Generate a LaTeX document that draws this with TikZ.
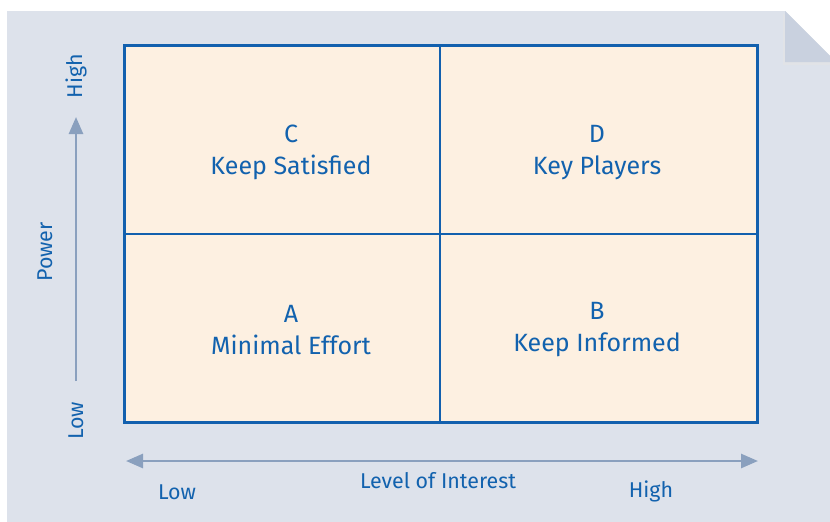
\documentclass[tikz,border=0pt]{standalone}
\usepackage{fontspec}
\setmainfont{Fira Sans}
\usetikzlibrary{arrows.meta}
\definecolor{bgc}{HTML}{DDE2EB}
\definecolor{foldc}{HTML}{C9D1DF}
\definecolor{cellc}{HTML}{FDF0E1}
\definecolor{linec}{HTML}{1260AE}
\definecolor{txtc}{HTML}{1262AE}
\definecolor{arrc}{HTML}{8AA0BE}
\tikzset{
  cell/.style={draw=linec, line width=3pt, fill=cellc},
  celltext/.style={text=txtc, font=\fontsize{25}{32}\selectfont, align=center},
  axtext/.style={text=txtc, font=\fontsize{21.4}{24}\selectfont, inner sep=0pt},
  axarrow/.style={draw=arrc, line width=2.6pt, -{Triangle[length=17pt,width=14pt]}},
}
\begin{document}
\begin{tikzpicture}[x=1pt,y=-1pt]
\useasboundingbox (0,0) rectangle (830,522);
\fill[white] (0,0) rectangle (830,522);
% background with cut corner
\fill[bgc] (7,11) -- (785,11) -- (830,56) -- (830,522) -- (7,522) -- cycle;
% fold shadow
\fill[black!10, opacity=0.5] (783,13) -- (783,65) -- (832,65) -- cycle;
\fill[foldc] (785,11) -- (785,62) -- (836,62) -- cycle;
% grid
\coordinate (tl) at (124,45);
\coordinate (br) at (757,422);
\path[cell] (tl) rectangle (br);
\coordinate (mt) at (440,45);
\coordinate (mb) at (440,422);
\coordinate (ml) at (124,234);
\coordinate (mr) at (757,234);
\draw[draw=linec, line width=2.6pt] (mt) -- (mb);
\draw[draw=linec, line width=2.6pt] (ml) -- (mr);
% cell texts
\node[celltext] (c) at (291,152.5) {C\\Keep Satisfied};
\node[celltext] (d) at (597,152.5) {D\\Key Players};
\node[celltext] (a) at (291,330) {A\\Minimal Effort};
\node[celltext] (b) at (597,330) {B\\Keep Informed};
% axes
\coordinate (vs) at (76,381);
\coordinate (ve) at (76,117);
\draw[axarrow] (vs) -- (ve);
\coordinate (hl) at (126,461);
\coordinate (hr) at (758,461);
\draw[axarrow, {Triangle[length=17pt,width=14pt]}-{Triangle[length=17pt,width=14pt]}] (hl) -- (hr);
\node[axtext, rotate=90] (vhigh) at (76,76) {High};
\node[axtext, rotate=90] (vpow) at (45,252) {Power};
\node[axtext, rotate=90] (vlow) at (76,421) {Low};
\node[axtext] (hlow) at (177,492) {Low};
\node[axtext] (hlev) at (438,481) {Level of Interest};
\node[axtext] (hhigh) at (651,491) {High};
\end{tikzpicture}
\end{document}
